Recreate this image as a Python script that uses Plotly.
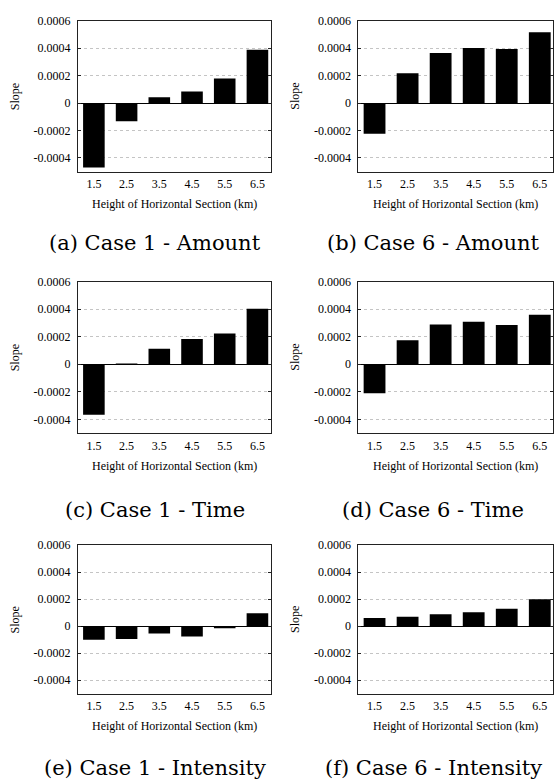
import plotly.graph_objects as go

heights = ["1.5", "2.5", "3.5", "4.5", "5.5", "6.5"]
case1_amount = [-0.00047, -0.000133, 0.000043, 0.000084, 0.00018, 0.00039]
case6_amount = [-0.000224, 0.000217, 0.000366, 0.000402, 0.000395, 0.000516]
case1_time = [-0.000366, 0.000003, 0.000113, 0.000183, 0.000222, 0.000402]
case6_time = [-0.00021, 0.000173, 0.000289, 0.000308, 0.000284, 0.000359]
case1_intensity = [-0.0001, -0.000094, -0.000053, -0.000077, -0.000007, 0.000096]
case6_intensity = [0.00006, 0.00007, 0.000089, 0.000104, 0.00013, 0.0002]
captions = ["(a) Case 1 - Amount", "(b) Case 6 - Amount",
            "(c) Case 1 - Time", "(d) Case 6 - Time",
            "(e) Case 1 - Intensity", "(f) Case 6 - Intensity"]
ytick_vals = [-0.0004, -0.0002, 0, 0.0002, 0.0004, 0.0006]
ytick_text = ["-0.0004", "-0.0002", "0", "0.0002", "0.0004", "0.0006"]
xtitle = "Height of Horizontal Section (km)"
ytitle = "Slope"

W, H = 554, 780


def px(x):
    return x / W


def py(y):
    return 1 - y / H


series = [case1_amount, case6_amount, case1_time, case6_time, case1_intensity, case6_intensity]
col_x = [(78, 271), (359, 554)]
row_y = [(14, 166), (277, 430), (543, 693)]
cap_y = [238, 508, 768]
cap_x = [155, 434]

fig = go.Figure()
tickfont = dict(family="Liberation Serif", size=12, color="black")
for i, vals in enumerate(series):
    r, c = divmod(i, 2)
    n = i + 1
    xa = "x" if n == 1 else f"x{n}"
    ya = "y" if n == 1 else f"y{n}"
    fig.add_trace(go.Bar(x=heights, y=vals, xaxis=xa, yaxis=ya,
                         marker=dict(color="black", line=dict(width=0)),
                         width=0.66, showlegend=False))
    l, rgt = col_x[c]
    t, b = row_y[r]
    xkey = "xaxis" if n == 1 else f"xaxis{n}"
    ykey = "yaxis" if n == 1 else f"yaxis{n}"
    fig.layout[xkey] = dict(domain=[px(l), px(rgt)], anchor=ya, type="category",
                            range=[-0.49, 5.4], showline=True, mirror=True,
                            linecolor="#222222", linewidth=1, ticks="",
                            showgrid=False, tickfont=tickfont,
                            ticklabelstandoff=1, fixedrange=True)
    fig.layout[ykey] = dict(domain=[py(b), py(t)], anchor=xa,
                            range=[-0.0005, 0.0006], tickvals=ytick_vals,
                            ticktext=ytick_text, showline=True, mirror="ticks",
                            linecolor="#222222", linewidth=1, ticks="inside",
                            ticklen=3, tickcolor="#222222",
                            showgrid=True, gridcolor="#c4c4c4", griddash="dot",
                            gridwidth=1, zeroline=True, zerolinecolor="black",
                            zerolinewidth=1, tickfont=tickfont,
                            ticklabelstandoff=4, fixedrange=True)
    fig.add_annotation(x=px((l + rgt) / 2), y=py(b + 33), xref="paper", yref="paper",
                       text=xtitle, showarrow=False,
                       font=dict(family="Liberation Serif", size=12, color="black"),
                       xanchor="center", yanchor="middle")
    fig.add_annotation(x=px(l - 63), y=py((t + b) / 2), xref="paper", yref="paper",
                       text=ytitle, showarrow=False, textangle=-90,
                       font=dict(family="Liberation Serif", size=12, color="black"),
                       xanchor="center", yanchor="middle")
    fig.add_annotation(x=px(cap_x[c]), y=py(cap_y[r]), xref="paper", yref="paper",
                       text=captions[i], showarrow=False,
                       font=dict(family="DejaVu Serif", size=21, color="black"),
                       xanchor="center", yanchor="middle")

fig.update_layout(width=W, height=H, margin=dict(l=0, r=0, t=0, b=0),
                  paper_bgcolor="white", plot_bgcolor="white", bargap=0.34)
fig.write_html("out.html", config={"displayModeBar": False},
               post_script="document.body.style.margin='0';"
                           "document.body.style.overflow='hidden';")
